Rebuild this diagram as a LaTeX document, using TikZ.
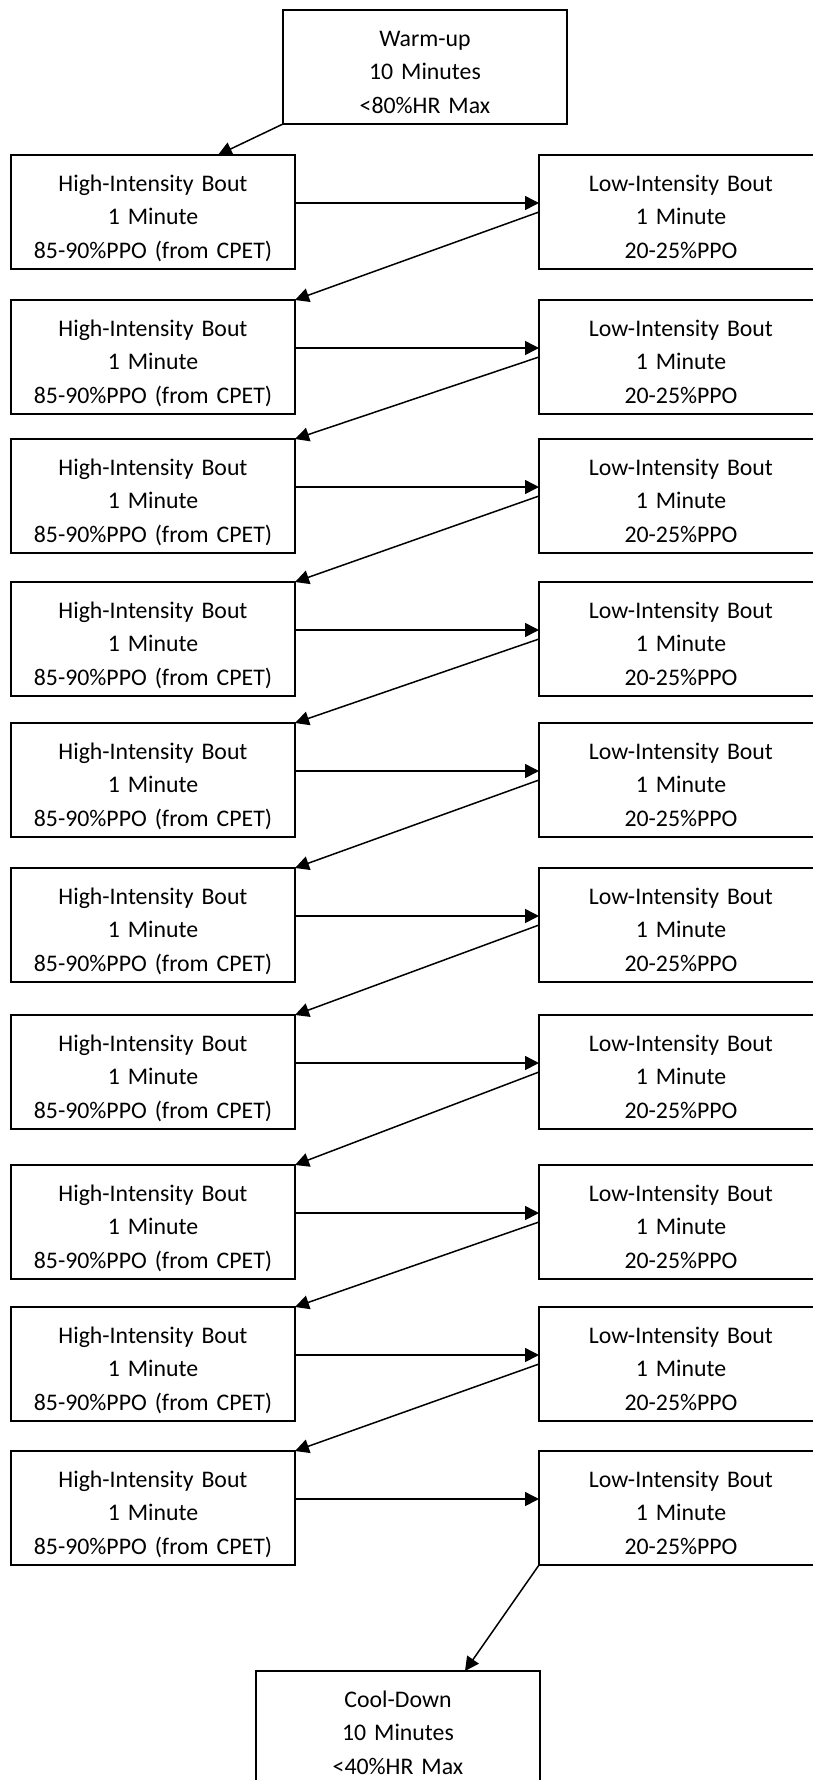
\documentclass[tikz,border=0pt]{standalone}
\usepackage{fontspec}
\setmainfont{Carlito}
\usepackage{tikz}
\usetikzlibrary{
    arrows.meta,
    positioning
}

\begin{document}
\begin{tikzpicture}[
    x=1pt, y=1pt,
    >={Triangle[length=14pt,width=14pt]},
    block/.style={
        rectangle,
        draw,
        line width=1.5pt,
        align=center,
        text width=284pt,
        text height=36pt,
        text depth=78pt,
        inner sep=0pt,
        outer sep=0pt,
        font=\fontsize{23.8}{33.5}\selectfont
    },
    highblock/.style={
        block
    },
    lowblock/.style={
        block
    },
    line/.style={draw, ->, line width=1.5pt}
]

\useasboundingbox (0,0) rectangle (812,-1780);

% Warm-up
\node[block, anchor=north west] (warm) at (283,-10) {Warm-up\\10 Minutes\\<80\%HR Max};

% Interval rows
\node[highblock, anchor=north west] (high1) at (11,-155) {High-Intensity Bout\\1 Minute\\85-90\%PPO (from CPET)};
\node[lowblock, right=244pt of high1] (low1) {Low-Intensity Bout\\1 Minute\\20-25\%PPO};

\node[highblock, below=31pt of high1] (high2) {High-Intensity Bout\\1 Minute\\85-90\%PPO (from CPET)};
\node[lowblock, right=244pt of high2] (low2) {Low-Intensity Bout\\1 Minute\\20-25\%PPO};

\node[highblock, below=25pt of high2] (high3) {High-Intensity Bout\\1 Minute\\85-90\%PPO (from CPET)};
\node[lowblock, right=244pt of high3] (low3) {Low-Intensity Bout\\1 Minute\\20-25\%PPO};

\node[highblock, below=29pt of high3] (high4) {High-Intensity Bout\\1 Minute\\85-90\%PPO (from CPET)};
\node[lowblock, right=244pt of high4] (low4) {Low-Intensity Bout\\1 Minute\\20-25\%PPO};

\node[highblock, below=27pt of high4] (high5) {High-Intensity Bout\\1 Minute\\85-90\%PPO (from CPET)};
\node[lowblock, right=244pt of high5] (low5) {Low-Intensity Bout\\1 Minute\\20-25\%PPO};

\node[highblock, below=31pt of high5] (high6) {High-Intensity Bout\\1 Minute\\85-90\%PPO (from CPET)};
\node[lowblock, right=244pt of high6] (low6) {Low-Intensity Bout\\1 Minute\\20-25\%PPO};

\node[highblock, below=33pt of high6] (high7) {High-Intensity Bout\\1 Minute\\85-90\%PPO (from CPET)};
\node[lowblock, right=244pt of high7] (low7) {Low-Intensity Bout\\1 Minute\\20-25\%PPO};

\node[highblock, below=36pt of high7] (high8) {High-Intensity Bout\\1 Minute\\85-90\%PPO (from CPET)};
\node[lowblock, right=244pt of high8] (low8) {Low-Intensity Bout\\1 Minute\\20-25\%PPO};

\node[highblock, below=28pt of high8] (high9) {High-Intensity Bout\\1 Minute\\85-90\%PPO (from CPET)};
\node[lowblock, right=244pt of high9] (low9) {Low-Intensity Bout\\1 Minute\\20-25\%PPO};

\node[highblock, below=30pt of high9] (high10) {High-Intensity Bout\\1 Minute\\85-90\%PPO (from CPET)};
\node[lowblock, right=244pt of high10] (low10) {Low-Intensity Bout\\1 Minute\\20-25\%PPO};

% Cool-down
\node[block, anchor=north west] (cool) at (256,-1671) {Cool-Down\\10 Minutes\\<40\%HR Max};

% Arrows
\draw[line] (warm.south west) -- ([xshift=65pt]high1.north);

\draw[line] ([yshift=9pt]high1.east) -- ([yshift=9pt]low1.west);
\draw[line] (low1.west) -- (high2.north east);
\draw[line] ([yshift=9pt]high2.east) -- ([yshift=9pt]low2.west);
\draw[line] (low2.west) -- (high3.north east);
\draw[line] ([yshift=9pt]high3.east) -- ([yshift=9pt]low3.west);
\draw[line] (low3.west) -- (high4.north east);
\draw[line] ([yshift=9pt]high4.east) -- ([yshift=9pt]low4.west);
\draw[line] (low4.west) -- (high5.north east);
\draw[line] ([yshift=9pt]high5.east) -- ([yshift=9pt]low5.west);
\draw[line] (low5.west) -- (high6.north east);
\draw[line] ([yshift=9pt]high6.east) -- ([yshift=9pt]low6.west);
\draw[line] (low6.west) -- (high7.north east);
\draw[line] ([yshift=9pt]high7.east) -- ([yshift=9pt]low7.west);
\draw[line] (low7.west) -- (high8.north east);
\draw[line] ([yshift=9pt]high8.east) -- ([yshift=9pt]low8.west);
\draw[line] (low8.west) -- (high9.north east);
\draw[line] ([yshift=9pt]high9.east) -- ([yshift=9pt]low9.west);
\draw[line] (low9.west) -- (high10.north east);
\draw[line] ([yshift=9pt]high10.east) -- ([yshift=9pt]low10.west);

\draw[line] (low10.south west) -- ([xshift=67pt]cool.north);

\end{tikzpicture}
\end{document}
